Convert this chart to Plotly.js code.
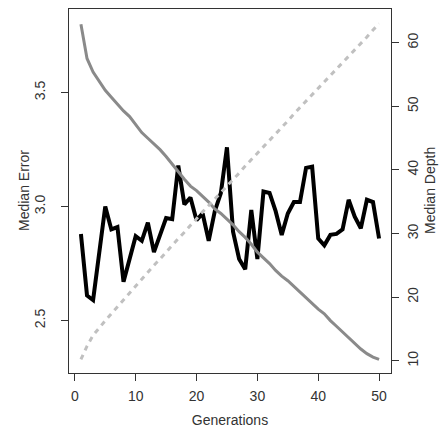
<!DOCTYPE html>
<html>
<head>
<meta charset="utf-8">
<script src="https://cdn.plot.ly/plotly-3.0.1.min.js"></script>
<style>html,body{margin:0;padding:0;background:#fff;}#chart{width:448px;height:432px;}</style>
</head>
<body>
<div id="chart"></div>
<script>
const generations = Array.from({length: 50}, (_, i) => i + 1);
const medianError = [2.88, 2.61, 2.59, 2.80, 3.00, 2.90, 2.91, 2.67, 2.77, 2.87,
  2.85, 2.93, 2.80, 2.87, 2.95, 2.945, 3.18, 3.01, 3.04, 2.94,
  2.97, 2.85, 2.98, 3.06, 3.26, 2.89, 2.77, 2.725, 2.985, 2.77,
  3.066, 3.06, 2.98, 2.876, 2.97, 3.02, 3.02, 3.17, 3.175, 2.86,
  2.83, 2.876, 2.88, 2.90, 3.03, 2.956, 2.905, 3.03, 3.02, 2.86];
const bestError = [3.80, 3.65, 3.59, 3.55, 3.51, 3.48, 3.45, 3.42, 3.395, 3.36,
  3.325, 3.30, 3.275, 3.25, 3.22, 3.185, 3.15, 3.12, 3.09, 3.07,
  3.045, 3.02, 2.99, 2.97, 2.945, 2.92, 2.89, 2.865, 2.835, 2.80,
  2.775, 2.75, 2.72, 2.695, 2.675, 2.65, 2.625, 2.60, 2.575, 2.55,
  2.53, 2.50, 2.475, 2.45, 2.425, 2.40, 2.375, 2.355, 2.34, 2.33];
const medianDepth = [10.2, 12.3, 14.0, 15.2, 16.3, 17.4, 18.5, 19.6, 20.7, 21.8,
  22.9, 23.9, 25.0, 26.0, 27.1, 28.1, 29.2, 30.2, 31.3, 32.3,
  33.4, 34.4, 35.4, 36.4, 37.5, 38.5, 39.5, 40.6, 41.6, 42.6,
  43.6, 44.7, 45.7, 46.7, 47.7, 48.8, 49.8, 50.8, 51.8, 52.8,
  53.8, 54.9, 55.9, 56.9, 57.9, 58.9, 59.9, 60.9, 62.0, 63.0];
const xTicks = [0, 10, 20, 30, 40, 50];
const leftTicks = [2.5, 3.0, 3.5];
const leftTickText = ['2.5', '3.0', '3.5'];
const rightTicks = [10, 20, 30, 40, 50, 60];

const FAM = 'Liberation Sans, Arial, sans-serif';
const font = {family: FAM, size: 14, color: '#333'};
const axisCommon = {
  showgrid: false, zeroline: false, showline: true, linecolor: '#333', linewidth: 1,
  ticks: 'outside', ticklen: 7, tickwidth: 1, tickcolor: '#333',
  tickfont: font
};

const traces = [
  {x: generations, y: medianError, type: 'scatter', mode: 'lines', name: 'Median Error',
   line: {color: '#000', width: 4}, yaxis: 'y'},
  {x: generations, y: bestError, type: 'scatter', mode: 'lines', name: 'Error',
   line: {color: '#8a8a8a', width: 3}, yaxis: 'y'},
  {x: generations, y: medianDepth, type: 'scatter', mode: 'lines', name: 'Median Depth',
   line: {color: '#c0c0c0', width: 3, dash: '5px,5px'}, yaxis: 'y2'}
];

const layout = {
  width: 448, height: 432,
  margin: {l: 69, r: 57, t: 9, b: 59},
  paper_bgcolor: '#fff', plot_bgcolor: '#fff',
  showlegend: false,
  font: font,
  xaxis: Object.assign({}, axisCommon, {
    range: [-0.96, 51.96], tickmode: 'array', tickvals: xTicks,
    mirror: true, ticklabelstandoff: 3,
    title: {text: 'Generations', font: {family: FAM, size: 14, color: '#333'}, standoff: 12}
  }),
  yaxis: Object.assign({}, axisCommon, {
    range: [2.27, 3.867], tickmode: 'array', tickvals: leftTicks, ticktext: leftTickText,
    tickangle: -90, mirror: true, ticklabelstandoff: 10
  }),
  yaxis2: Object.assign({}, axisCommon, {
    range: [8.07, 65.3], tickmode: 'array', tickvals: rightTicks,
    tickangle: -90, overlaying: 'y', side: 'right', ticklabelstandoff: 2
  }),
  annotations: [
    {text: 'Median Error', xref: 'paper', yref: 'paper', x: (24 - 69) / 322, y: 0.5,
     xanchor: 'center', yanchor: 'middle', textangle: -90, showarrow: false,
     font: {family: FAM, size: 14, color: '#333'}},
    {text: 'Median Depth', xref: 'paper', yref: 'paper', x: (430 - 69) / 322, y: 0.5,
     xanchor: 'center', yanchor: 'middle', textangle: -90, showarrow: false,
     font: {family: FAM, size: 14, color: '#333'}}
  ]
};

Plotly.newPlot('chart', traces, layout, {displayModeBar: false, staticPlot: true});
</script>
</body>
</html>
